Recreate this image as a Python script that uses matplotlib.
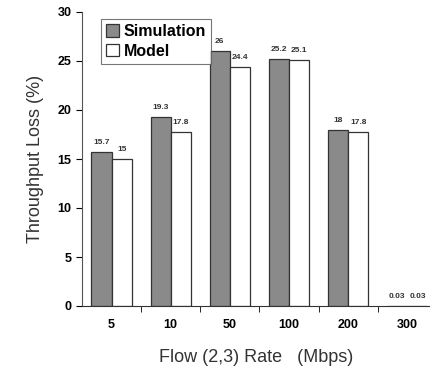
import matplotlib.pyplot as plt
import numpy as np

plt.rcParams['font.family'] = ['Liberation Sans', 'DejaVu Sans']

rates = ['5', '10', '50', '100', '200', '300']
simulation = [15.7, 19.3, 26, 25.2, 18, 0.03]
model = [15, 17.8, 24.4, 25.1, 17.8, 0.03]
sim_labels = ['15.7', '19.3', '26', '25.2', '18', '0.03']
model_labels = ['15', '17.8', '24.4', '25.1', '17.8', '0.03']

fig = plt.figure(figsize=(4.31, 3.67), dpi=100)
ax = fig.add_axes([82 / 431, 1 - 306 / 367, 1 - 82 / 431, (306 - 12) / 367])

x = np.arange(len(rates))
w = 0.34
ax.bar(x - w / 2, simulation, w, color='#8a8a8a', edgecolor='#333333',
       linewidth=0.9, label='Simulation')
ax.bar(x + w / 2, model, w, color='white', edgecolor='#333333',
       linewidth=0.9, label='Model')

for xi, v, t in zip(x, simulation, sim_labels):
    ax.text(xi - w / 2, v + 0.6, t, ha='center', va='bottom', fontsize=6,
            fontweight='bold', color='#333333')
for xi, v, t in zip(x, model, model_labels):
    ax.text(xi + w / 2, v + 0.6, t, ha='center', va='bottom', fontsize=6,
            fontweight='bold', color='#333333')

ax.set_xlim(-0.5, 5.4)
ax.set_ylim(0, 30)
ax.set_yticks(range(0, 31, 5))
ax.set_xticks(x)
ax.set_xticklabels(rates, fontsize=9, fontweight='bold')
ax.set_xticks(np.arange(0.5, 5.5, 1), minor=True)
ax.tick_params(axis='x', which='major', length=0, pad=9)
ax.tick_params(axis='x', which='minor', length=4, direction='out')
ax.tick_params(axis='y', labelsize=9, length=4, direction='out')
for lbl in ax.get_yticklabels():
    lbl.set_fontweight('bold')

ax.spines['top'].set_visible(False)
ax.spines['right'].set_visible(False)
ax.spines['left'].set_color('#555555')
ax.spines['bottom'].set_color('#333333')

ax.set_ylabel('Throughput Loss (%)', fontsize=13, color='#333333', labelpad=10)
ax.set_xlabel('Flow (2,3) Rate   (Mbps)', fontsize=13, color='#333333', labelpad=13)

leg = ax.legend(loc='upper left', bbox_to_anchor=(0.055, 0.975),
                prop={'weight': 'bold', 'size': 11.5}, frameon=True, fancybox=False,
                handlelength=0.8, handleheight=0.8, handletextpad=0.3,
                borderpad=0.3, labelspacing=0.3, borderaxespad=0)
leg.get_frame().set_edgecolor('#555555')
leg.get_frame().set_linewidth(0.8)

fig.savefig('out.png', dpi=100)
